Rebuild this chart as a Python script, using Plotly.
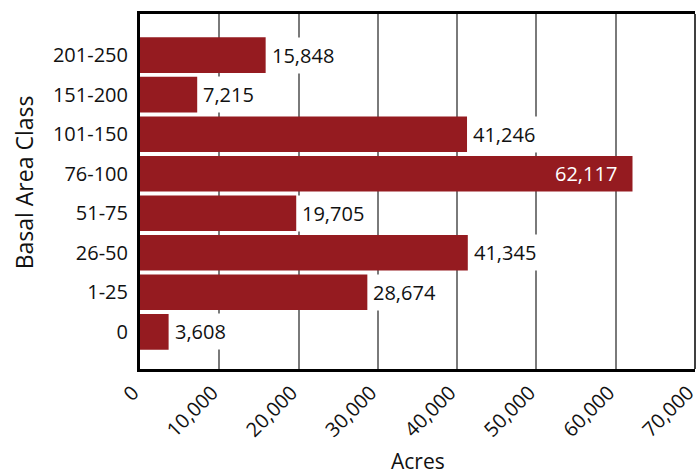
import plotly.graph_objects as go

categories = ["0", "1-25", "26-50", "51-75", "76-100", "101-150", "151-200", "201-250"]
acres = [3608, 28674, 41345, 19705, 62117, 41246, 7215, 15848]
x_ticks = [0, 10000, 20000, 30000, 40000, 50000, 60000, 70000]
x_tick_labels = ["0", "10,000", "20,000", "30,000", "40,000", "50,000", "60,000", "70,000"]

BAR = "#951B20"
FONT = "Open Sans"

fig = go.Figure()
fig.add_trace(go.Bar(
    x=acres, y=categories, orientation="h",
    marker=dict(color=BAR, line=dict(width=0)),
    width=0.9, hoverinfo="skip",
))

annotations = []
for c, v in zip(categories, acres):
    txt = f"{v:,}"
    if v > 55000:
        annotations.append(dict(x=v, y=c, xref="x", yref="y", text=txt, showarrow=False,
                                xanchor="right", xshift=-14,
                                font=dict(family=FONT, size=20, color="white")))
    else:
        annotations.append(dict(x=v, y=c, xref="x", yref="y", text=txt, showarrow=False,
                                xanchor="left", xshift=1, bgcolor="white", borderpad=4,
                                font=dict(family=FONT, size=20, color="#111")))

annotations.append(dict(x=-0.21, y=0.527, xref="paper", yref="paper", text="Basal Area Class",
                        showarrow=False, textangle=-90, xanchor="center", yanchor="middle",
                        font=dict(family=FONT, size=23, color="#111")))
annotations.append(dict(x=0.5, y=-0.258, xref="paper", yref="paper", text="Acres",
                        showarrow=False, xanchor="center", yanchor="middle",
                        font=dict(family=FONT, size=21, color="#111")))

fig.update_layout(
    width=696, height=474,
    margin=dict(l=140, r=1, t=14, b=105),
    paper_bgcolor="white", plot_bgcolor="white",
    showlegend=False,
    font=dict(family=FONT, size=20, color="#111"),
    annotations=annotations,
    bargap=0.1,
)
fig.update_xaxes(
    range=[0, 70000.5], tickvals=x_ticks, ticktext=x_tick_labels, tickangle=-45,
    showgrid=True, gridcolor="#7a7a7a", gridwidth=1.5,
    showline=True, linecolor="black", linewidth=3, mirror=True,
    ticks="outside", ticklen=1, tickcolor="rgba(0,0,0,0)",
    tickfont=dict(family=FONT, size=20, color="#111"),
    ticklabeloverflow="allow", ticklabelshift=-7,
    zeroline=False, fixedrange=True, automargin=False,
)
fig.update_yaxes(
    categoryorder="array", categoryarray=categories,
    range=[-0.94, 8.04],
    showgrid=False, zeroline=False,
    showline=True, linecolor="black", linewidth=3,
    ticks="outside", ticklen=5, tickcolor="rgba(0,0,0,0)",
    tickfont=dict(family=FONT, size=20, color="#111"),
    fixedrange=True, automargin=False,
)
fig.add_shape(type="line", xref="paper", yref="paper", x0=1, x1=1, y0=0, y1=1,
              line=dict(color="black", width=1.5))

fig.write_html("out.html", config={"displayModeBar": False},
               post_script="document.body.style.margin='0';document.body.style.overflow='hidden';")
